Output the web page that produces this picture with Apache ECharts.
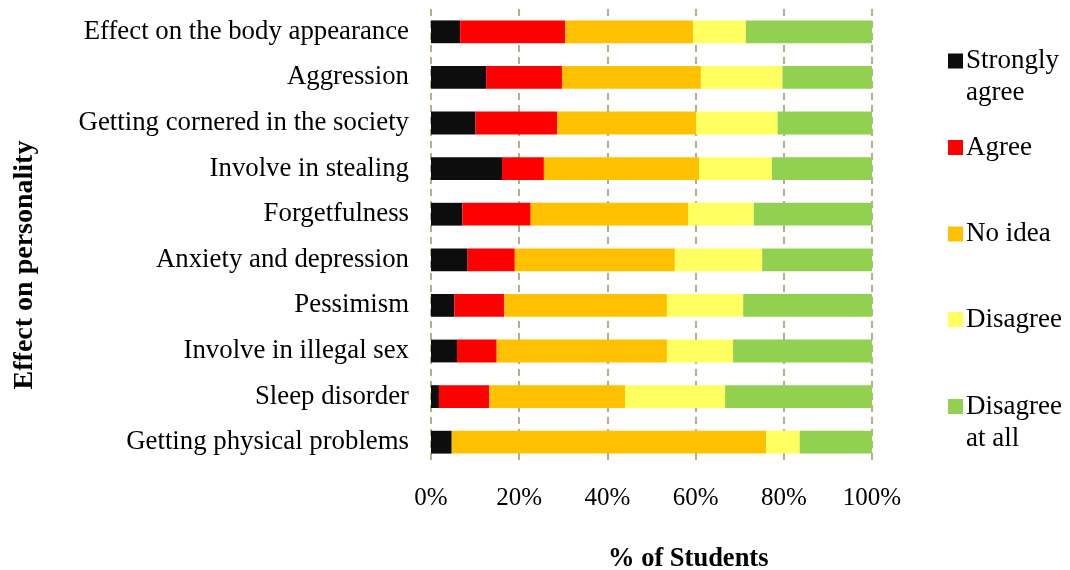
<!DOCTYPE html>
<html>
<head>
<meta charset="utf-8">
<script src="https://cdn.jsdelivr.net/npm/echarts@6/dist/echarts.min.js"></script>
<style>html,body{margin:0;padding:0;background:#fff}#c{width:1070px;height:570px}</style>
</head>
<body>
<div id="c"></div>
<script>
const categories = ["Effect on the body appearance","Aggression","Getting cornered in the society","Involve in stealing","Forgetfulness","Anxiety and depression","Pessimism","Involve in illegal sex","Sleep disorder","Getting physical problems"];
const stronglyAgree = [6.6, 12.5, 10.1, 16.1, 7.1, 8.3, 5.3, 5.9, 1.8, 4.7];
const agree         = [23.8, 17.2, 18.5, 9.5, 15.5, 10.7, 11.3, 9.0, 11.4, 0];
const noIdea        = [29.0, 31.5, 31.5, 35.2, 35.7, 36.3, 36.9, 38.6, 30.8, 71.3];
const disagree      = [12.0, 18.5, 18.5, 16.5, 14.9, 19.8, 17.3, 15.0, 22.7, 7.6];
const disagreeAtAll = [28.6, 20.3, 21.4, 22.7, 26.8, 24.9, 29.2, 31.5, 33.3, 16.4];
const xTicks = [0, 20, 40, 60, 80, 100];
const seriesNames = ["Strongly agree","Agree","No idea","Disagree","Disagree at all"];
const legendLabels = ["\nStrongly\nagree","Agree","No idea","Disagree","\nDisagree\nat all"];
const colors = ["#0d0d0d","#ff0000","#ffc000","#ffff60","#92d050"];
const values = [stronglyAgree, agree, noIdea, disagree, disagreeAtAll];

const font = "Liberation Serif";
const chart = echarts.init(document.getElementById('c'));
const iconCenters = [56, 142.5, 229, 314.5, 401.5];
const lh = 32;
const legends = seriesNames.map((n, i) => {
  const lines = legendLabels[i].split('\n').length;
  return {
    data: [n],
    orient: 'vertical',
    left: 943,
    top: iconCenters[i] - lines * lh / 2,
    itemWidth: 15, itemHeight: 15,
    itemGap: 0,
    icon: 'rect',
    selectedMode: false,
    formatter: () => legendLabels[i],
    textStyle: { fontFamily: font, fontSize: 27, color: '#000', lineHeight: lh, padding: [0,0,0,-2] }
  };
});

chart.setOption({
  animation: false,
  textStyle: { fontFamily: font },
  grid: { left: 431, right: 198, top: 9, bottom: 105, containLabel: false },
  legend: legends,
  xAxis: {
    type: 'value', min: 0, max: 100, interval: 20,
    axisLine: { show: false }, axisTick: { show: false },
    axisLabel: { formatter: v => xTicks.includes(v) ? v + '%' : '', fontFamily: font, fontSize: 25, color: '#000', margin: 21 },
    splitLine: { show: true, lineStyle: { color: '#9e9466', type: [7, 5], width: 1.5 } }
  },
  yAxis: {
    type: 'category', data: categories, inverse: true,
    axisLine: { show: false }, axisTick: { show: false },
    axisLabel: { fontFamily: font, fontSize: 26.8, color: '#000', margin: 22 }
  },
  title: [
    { text: '% of Students', left: 603, top: 541, textStyle: { fontFamily: font, fontSize: 26.5, fontWeight: 'bold', color: '#000' } }
  ],
  graphic: [
    { type: 'text', x: 25, y: 265, rotation: Math.PI / 2,
      style: { text: 'Effect on personality', font: "bold 28px 'Liberation Serif', serif", fill: '#000', align: 'center', verticalAlign: 'middle' } }
  ],
  series: seriesNames.map((n, i) => ({
    name: n, type: 'bar', stack: 'total', barWidth: '50%',
    itemStyle: { color: colors[i] },
    data: values[i]
  }))
});
</script>
</body>
</html>
